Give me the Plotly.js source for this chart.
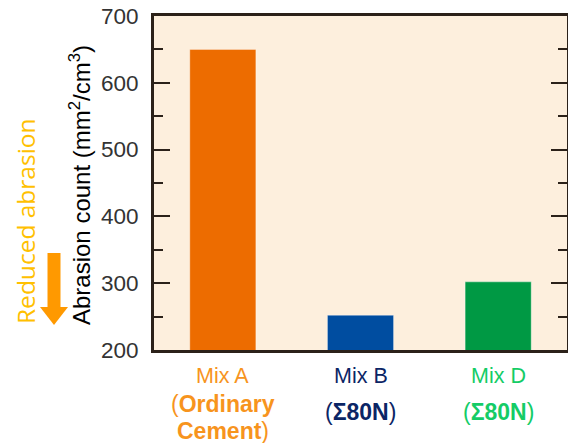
<!DOCTYPE html>
<html>
<head>
<meta charset="utf-8">
<script src="https://cdn.plot.ly/plotly-3.0.1.min.js"></script>
<style>html,body{margin:0;padding:0;background:#fff;}#chart{width:568px;height:443px;}</style>
</head>
<body>
<div id="chart"></div>
<script>
// Data
const categories = ["Mix A", "Mix B", "Mix D"];
const abrasionValues = [650, 252, 302];
const barColors = ["#ED6C00", "#004DA0", "#009944"];
const labelNames = ["Mix A", "Mix B", "Mix D"];
const labelSubLines = [["(<b>Ordinary</b>", "<b>Cement</b>)"], ["(<b>Σ80N</b>)"], ["(<b>Σ80N</b>)"]];
const labelColors = ["#F7941D", "#0B2565", "#14CC66"];
const yTickVals = [200, 300, 400, 500, 600, 700];

const W = 568, H = 443;
const M = {l: 154, r: 1, t: 16, b: 93};
const pw = W - M.l - M.r, ph = H - M.t - M.b;
const px = x => (x - M.l) / pw;           // pixel x -> paper x
const py = y => (H - M.b - y) / ph;        // pixel y -> paper y

const frame = "#2B2119";
const font = "Liberation Sans, Arial, sans-serif";

const annotations = [];
categories.forEach((c, i) => {
  annotations.push({
    x: c, xref: "x", y: py(376), yref: "paper", text: labelNames[i],
    showarrow: false, xanchor: "center", yanchor: "middle",
    font: {family: font, size: 21.5, color: labelColors[i]}
  });
  const subs = labelSubLines[i];
  const ys = subs.length === 2 ? [404, 431] : [412];
  subs.forEach((s, k) => {
    annotations.push({
      x: c, xref: "x", y: py(ys[k]), yref: "paper", text: s,
      showarrow: false, xanchor: "center", yanchor: "middle",
      font: {family: font, size: 23, color: labelColors[i]}
    });
  });
});
annotations.push({
  x: px(80), xref: "paper", y: py(185), yref: "paper",
  text: "Abrasion count (mm<sup>2</sup>/cm<sup>3</sup>)", textangle: -90,
  showarrow: false, xanchor: "center", yanchor: "middle",
  font: {family: font, size: 24, color: "#000"}
});
annotations.push({
  x: px(25), xref: "paper", y: py(221), yref: "paper",
  text: "Reduced abrasion", textangle: -90,
  showarrow: false, xanchor: "center", yanchor: "middle",
  font: {family: "Open Sans, Liberation Sans, sans-serif", size: 24.5, color: "#FFC000"}
});

const shapes = [
  {type: "rect", xref: "paper", yref: "paper", x0: px(47.5), x1: px(60.5), y0: py(253), y1: py(308),
   fillcolor: "#FF9900", line: {width: 0}, layer: "above"},
  {type: "path", xref: "paper", yref: "paper",
   path: `M ${px(40)} ${py(307)} L ${px(68)} ${py(307)} L ${px(54)} ${py(325)} Z`,
   fillcolor: "#FF9900", line: {width: 0}, layer: "above"}
];

const trace = {
  type: "bar", x: categories, y: abrasionValues, width: 0.48,
  marker: {color: barColors, line: {width: 1, color: "rgba(255,255,255,0.35)"}},
  hoverinfo: "skip"
};

const layout = {
  width: W, height: H, margin: M,
  paper_bgcolor: "#FFFFFF", plot_bgcolor: "#FDEFDD",
  showlegend: false, bargap: 0.5,
  xaxis: {range: [-0.5, 2.5], showticklabels: false, ticks: "", showgrid: false, zeroline: false,
          showline: true, mirror: true, linecolor: frame, linewidth: 3, fixedrange: true},
  yaxis: {range: [200, 700], tickvals: yTickVals, ticks: "inside", ticklen: 16, tickwidth: 2,
          tickcolor: frame, showgrid: false, zeroline: false, showline: true, mirror: "ticks",
          linecolor: frame, linewidth: 3, ticklabelstandoff: 8,
          tickfont: {family: font, size: 22.5, color: "#333333"},
          minor: {dtick: 50, ticks: "inside", ticklen: 9, tickwidth: 2, tickcolor: frame},
          fixedrange: true},
  annotations: annotations, shapes: shapes
};

Plotly.newPlot("chart", [trace], layout, {staticPlot: true, displayModeBar: false});
</script>
</body>
</html>
